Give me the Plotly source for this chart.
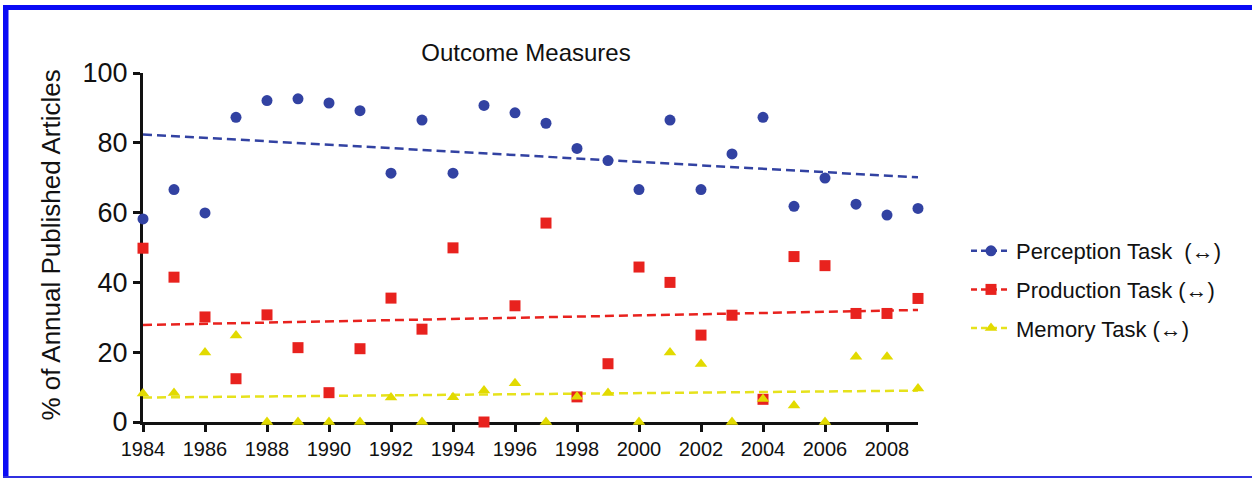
import plotly.graph_objects as go

years = list(range(1984, 2010))

perception = [58.2, 66.6, 59.9, 87.3, 92.1, 92.6, 91.4, 89.2, 71.3, 86.5,
              71.3, 90.7, 88.6, 85.6, 78.4, 74.9, 66.6, 86.5, 66.6, 76.8,
              87.3, 61.8, 69.9, 62.4, 59.3, 61.2]
production = [49.8, 41.5, 30.1, 12.4, 30.7, 21.3, 8.4, 21.0, 35.5, 26.6,
              49.9, 0.0, 33.3, 57.0, 7.2, 16.7, 44.4, 40.0, 24.9, 30.6,
              6.5, 47.4, 44.8, 31.1, 31.1, 35.4]
memory = [8.2, 8.3, 19.9, 24.8, 0.0, 0.0, 0.0, 0.0, 7.0, 0.0,
          7.1, 9.0, 11.1, 0.0, 7.2, 8.3, 0.0, 19.9, 16.6, 0.0,
          6.6, 4.7, 0.0, 18.7, 18.7, 9.6]

trend_x = [1984, 2009]
perception_trend = [82.4, 70.1]
production_trend = [27.8, 32.1]
memory_trend = [7.0, 9.0]

names = ["Perception Task\u00a0\u00a0(\u2194)", "Production Task\u00a0(\u2194)", "Memory Task\u00a0(\u2194)"]

BLUE = "#3242A2"
RED = "#E8221E"
YEL = "#E2DA00"
YEL_LINE = "#E6E21C"

series = [
    (perception, perception_trend, BLUE, BLUE, "circle", 11),
    (production, production_trend, RED, RED, "square", 11),
    (memory, memory_trend, YEL, YEL_LINE, "triangle-up", 11),
]

fig = go.Figure()
for i, (vals, tr, col, lcol, sym, sz) in enumerate(series):
    fig.add_trace(go.Scatter(
        x=trend_x, y=tr, mode="lines",
        line=dict(color=lcol, width=2.5, dash="9px,5px"),
        showlegend=False, hoverinfo="skip", cliponaxis=False))
for i, (vals, tr, col, lcol, sym, sz) in enumerate(series):
    fig.add_trace(go.Scatter(
        x=years, y=vals, mode="markers",
        marker=dict(color=col, symbol=sym, size=sz, line=dict(width=0)),
        showlegend=False, cliponaxis=False))
for i, (vals, tr, col, lcol, sym, sz) in enumerate(series):
    fig.add_trace(go.Scatter(
        x=[None], y=[None], mode="lines+markers", name=names[i],
        legendgroup="g%d" % i,
        line=dict(color=lcol, width=2.5, dash="6px,4px"),
        marker=dict(color=col, symbol=sym, size=sz, line=dict(width=0))))

L, R, T, B = 143, 334, 73, 56
W, H = 1252, 478
pw, ph = W - L - R, H - T - B

def px(x):
    return (x - L) / pw

def py(y):
    return (H - B - y) / ph

fig.update_layout(
    width=W, height=H,
    margin=dict(l=L, r=R, t=T, b=B),
    paper_bgcolor="white", plot_bgcolor="white",
    font=dict(family="Liberation Sans, Arial, sans-serif", color="#111"),
    title=dict(text="Outcome Measures", font=dict(size=24, color="#111"),
               x=px(526), xanchor="center", xref="paper",
               y=1 - 53 / H, yanchor="middle", yref="container"),
    xaxis=dict(range=[1984, 2009], tickmode="array",
               tickvals=list(range(1984, 2010, 2)),
               ticktext=[str(v) for v in range(1984, 2010, 2)],
               showgrid=False, zeroline=False, showline=True,
               linecolor="#111", linewidth=3, ticks="outside", ticklen=7,
               tickwidth=2.5, tickcolor="#111",
               tickfont=dict(size=20, color="#111"), layer="below traces"),
    yaxis=dict(range=[0, 100], tickmode="array", tickvals=[0, 20, 40, 60, 80, 100],
               showgrid=False, zeroline=False, showline=True,
               linecolor="#111", linewidth=3, ticks="outside", ticklen=7,
               tickwidth=2.5, tickcolor="#111",
               tickfont=dict(size=27, color="#111"), layer="below traces"),
    legend=dict(x=px(966), xanchor="left", y=py(289.5), yanchor="middle",
                font=dict(size=22, color="#111"), tracegroupgap=7,
                bgcolor="rgba(0,0,0,0)", itemwidth=40),
    annotations=[dict(text="% of Annual Published Articles", textangle=-90,
                      x=px(50), y=py(245.5), xref="paper", yref="paper",
                      xanchor="center", yanchor="middle", showarrow=False,
                      font=dict(size=26, color="#111"))],
    shapes=[
        dict(type="rect", xref="paper", yref="paper", x0=px(3), x1=px(1253),
             y0=py(5), y1=py(10), fillcolor="#0A0AF5", line=dict(width=0), layer="above"),
        dict(type="rect", xref="paper", yref="paper", x0=px(3), x1=px(8.5),
             y0=py(5), y1=py(478), fillcolor="#0A0AF5", line=dict(width=0), layer="above"),
        dict(type="rect", xref="paper", yref="paper", x0=px(3), x1=px(1253),
             y0=py(476), y1=py(478), fillcolor="#3030E0", line=dict(width=0), layer="above"),
    ],
)

fig.write_html("out.html")
